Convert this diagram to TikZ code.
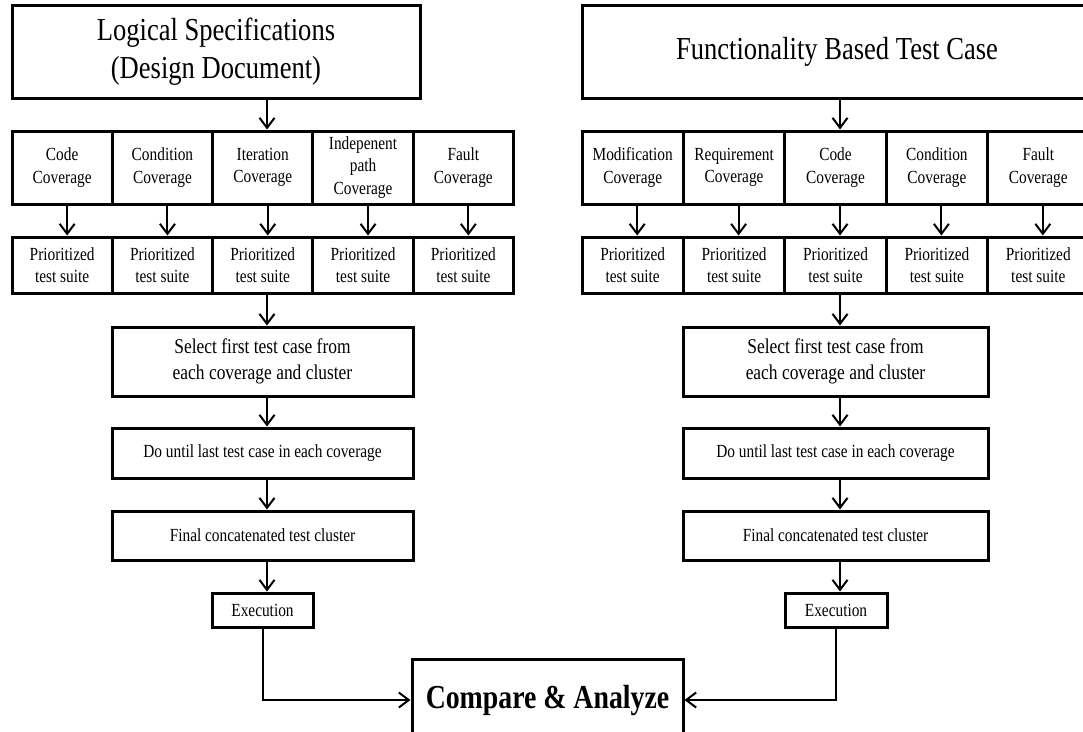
\documentclass[tikz,border=0pt]{standalone}
\usepackage{fontspec}
\setmainfont{Liberation Serif}[FakeStretch=0.83]
\usetikzlibrary{arrows.meta}
\tikzset{
    box/.style={draw,line width=3pt,inner sep=0pt,align=center},
    titlebox/.style={box,minimum height=93pt,font=\fontsize{32}{38}\selectfont},
    cellbox/.style={box,minimum height=73pt,font=\fontsize{18.5}{22.5}\selectfont},
    suitebox/.style={box,minimum height=56pt,font=\fontsize{18.5}{22.5}\selectfont},
    stepbox/.style={box,font=\fontsize{18.5}{22.5}\selectfont},
    selbox/.style={box,minimum height=69pt,font=\fontsize{21}{26}\selectfont},
    cmpbox/.style={box,minimum width=271pt,minimum height=82pt,font=\fontsize{33.5}{40}\selectfont\bfseries},
    flow/.style={line width=2pt,->,>={Straight Barb[length=10pt,width=15pt]}}
}
\begin{document}
\begin{tikzpicture}[x=1pt,y=-1pt]
                    \useasboundingbox (0,0) rectangle (1083,731);
                    \clip (0,0) rectangle (1083,731);
                    \node[titlebox,minimum width=408pt] (titleL) at (216,51.5) {Logical Specifications\\(Design Document)};
                    \node[titlebox,minimum width=510pt] (titleR) at (837,51.5) {Functionality Based Test Case};
                    \foreach \t [count=\i] in {{Code\\Coverage},{Condition\\Coverage},{Iteration\\Coverage},{Indepenent\\path\\Coverage},{Fault\\Coverage}}
                        \node[cellbox,minimum width=100.3pt] (cl\i) at ({12+100.3*(\i-0.5)},167.5) {\t};
                    \foreach \t [count=\i] in {{Modification\\Coverage},{Requirement\\Coverage},{Code\\Coverage},{Condition\\Coverage},{Fault\\Coverage}}
                        \node[cellbox,minimum width=101.4pt] (cr\i) at ({582+101.4*(\i-0.5)},167.5) {\t};
                    \foreach \i in {1,...,5} {
                        \node[suitebox,minimum width=100.3pt] (pl\i) at ({12+100.3*(\i-0.5)},265) {Prioritized\\test suite};
                        \node[suitebox,minimum width=101.4pt] (pr\i) at ({582+101.4*(\i-0.5)},265) {Prioritized\\test suite};
                        \draw[flow] ([xshift=5pt]cl\i.south) -- ([xshift=5pt]pl\i.north);
                        \draw[flow] ([xshift=4.5pt]cr\i.south) -- ([xshift=4.5pt]pr\i.north);
                    }
                    \node[selbox,minimum width=301pt] (selL) at (262.5,361.5) {Select first test case from\\each coverage and cluster};
                    \node[stepbox,minimum width=301pt,minimum height=50pt] (doL) at (262.5,453) {Do until last test case in each coverage};
                    \node[stepbox,minimum width=301pt,minimum height=49pt] (finL) at (262.5,535.5) {Final concatenated test cluster};
                    \node[stepbox,minimum width=101pt,minimum height=34pt] (exL) at (262.5,610) {Execution};
                    \node[selbox,minimum width=305pt] (selR) at (835.5,361.5) {Select first test case from\\each coverage and cluster};
                    \node[stepbox,minimum width=305pt,minimum height=50pt] (doR) at (835.5,453) {Do until last test case in each coverage};
                    \node[stepbox,minimum width=305pt,minimum height=49pt] (finR) at (835.5,535.5) {Final concatenated test cluster};
                    \node[stepbox,minimum width=102pt,minimum height=34pt] (exR) at (836,610) {Execution};
                    \node[cmpbox] (cmp) at (547.5,700) {Compare \& Analyze};
                    \coordinate (arL) at (267,0);
                    \coordinate (arR) at (840,0);
                    \draw[flow] (titleL.south -| arL) -- (cl3.north -| arL);
                    \draw[flow] (titleR.south -| arR) -- (cr3.north -| arR);
                    \foreach \a/\b in {pl3/selL,selL/doL,doL/finL,finL/exL}
                        \draw[flow] (\a.south -| arL) -- (\b.north -| arL);
                    \foreach \a/\b in {pr3/selR,selR/doR,doR/finR,finR/exR}
                        \draw[flow] (\a.south -| arR) -- (\b.north -| arR);
                    \draw[flow] (exL.south) |- (cmp.west);
                    \draw[flow] (exR.south) |- (cmp.east);
                \end{tikzpicture}
\end{document}
